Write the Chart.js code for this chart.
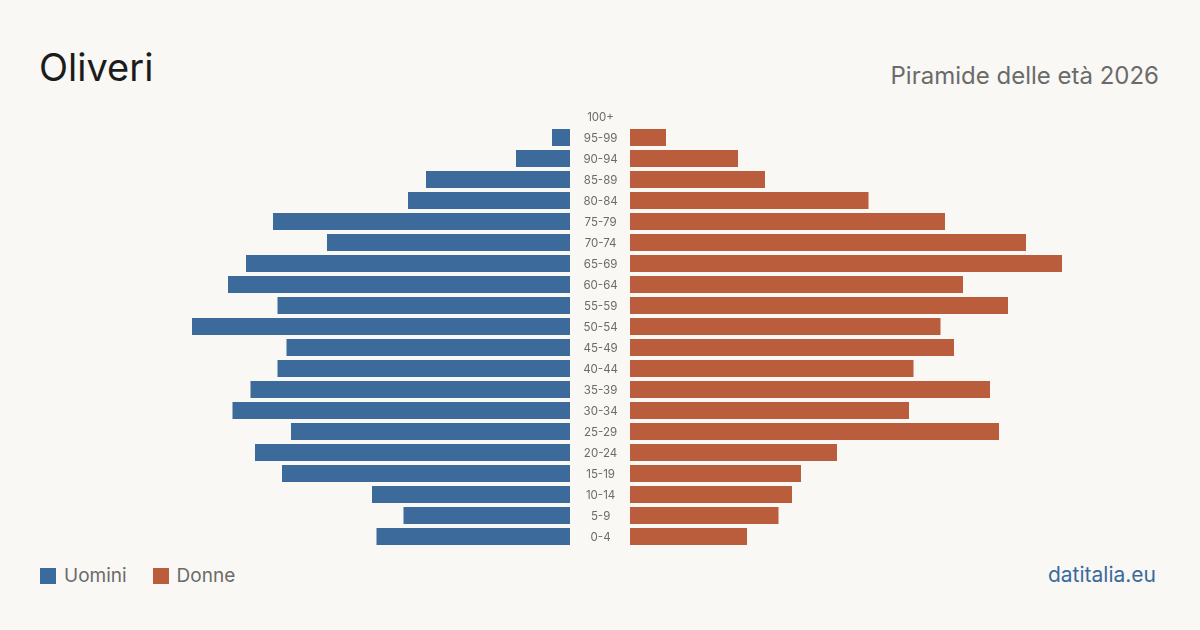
<!DOCTYPE html>
<html><head><meta charset="utf-8">
<script src="https://cdn.jsdelivr.net/npm/chart.js@4.4.1/dist/chart.umd.min.js"></script>
<style>
html,body{margin:0;padding:0;background:#f9f8f4;}
body{width:1200px;height:630px;position:relative;overflow:hidden;font-family:Inter,"Noto Sans",sans-serif;}
#title{position:absolute;left:39px;top:43px;font-size:38px;color:#1c1c1c;line-height:48px;}
#sub{position:absolute;right:41px;top:61px;font-size:24px;color:#6b6b6b;line-height:30px;}
#legend{position:absolute;left:40px;top:565px;font-size:19px;color:#6b6b6b;line-height:22px;display:flex;align-items:center;}
.sw{width:16px;height:16px;display:inline-block;margin-right:8px;}
.item{display:flex;align-items:center;margin-right:26px;}
#src{position:absolute;right:44px;top:562px;font-size:21px;color:#3b6a9c;line-height:26px;}
#cL{position:absolute;left:120px;top:106px;}
#cR{position:absolute;left:570px;top:106px;}
</style></head><body>
<div id="title">Oliveri</div>
<div id="sub">Piramide delle età 2026</div>
<div id="legend"><span class="item"><span class="sw" style="background:#3b6a9b"></span>Uomini</span><span class="item"><span class="sw" style="background:#b95d3d"></span>Donne</span></div>
<div id="src">datitalia.eu</div>
<div id="cL" style="width:450px;height:441px"><canvas id="left"></canvas></div>
<div id="cR" style="width:510px;height:441px"><canvas id="right"></canvas></div>
<script>
const ageGroups = ["100+","95-99","90-94","85-89","80-84","75-79","70-74","65-69","60-64","55-59","50-54","45-49","40-44","35-39","30-34","25-29","20-24","15-19","10-14","5-9","0-4"];
const men   = [0,4,12,32,36,66,54,72,76,65,84,63,65,71,75,62,70,64,44,37,43];
const women = [0,8,24,30,53,70,88,96,74,84,69,72,63,80,62,82,46,38,36,33,26];
const axisMax = 100;
const blue = "#3b6a9b", red = "#b95d3d";

const common = {
  indexAxis: 'y', responsive: true, maintainAspectRatio: false, animation: false,
  plugins: { legend: { display: false }, tooltip: { enabled: false } },
  layout: { padding: 0 }
};
new Chart(document.getElementById('left'), {
  type: 'bar',
  data: { labels: ageGroups, datasets: [{ label: 'Uomini', data: men, backgroundColor: blue, barPercentage: 1, categoryPercentage: 17/21 }] },
  options: Object.assign({}, common, {
    scales: {
      x: { display: false, min: 0, max: axisMax, reverse: true },
      y: { display: false }
    }
  })
});
new Chart(document.getElementById('right'), {
  type: 'bar',
  data: { labels: ageGroups, datasets: [{ label: 'Donne', data: women, backgroundColor: red, barPercentage: 1, categoryPercentage: 17/21 }] },
  options: Object.assign({}, common, {
    scales: {
      x: { display: false, min: 0, max: axisMax },
      y: {
        grid: { display: false, drawTicks: false }, border: { display: false },
        ticks: { color: '#6b6b6b', font: { family: 'Inter', size: 11.5 }, crossAlign: 'center', padding: 12, labelOffset: 1 },
        afterFit: (s) => { s.width = 60; s.paddingTop = 0; s.paddingBottom = 0; }
      }
    }
  })
});
</script>
</body></html>
